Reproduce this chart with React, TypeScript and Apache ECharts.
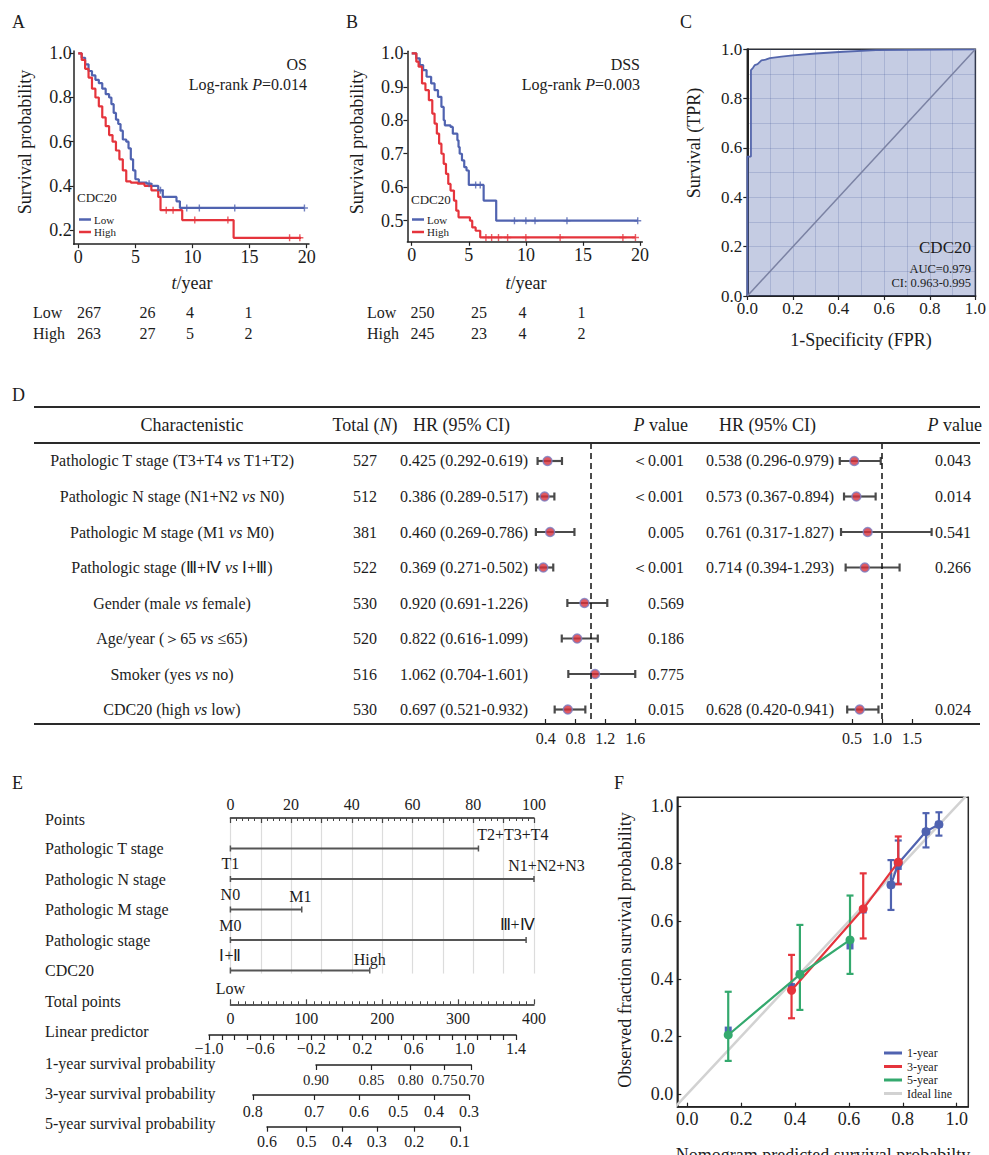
import React, { useEffect, useRef } from "react";
import * as echarts from "echarts";

const FONT = "'Liberation Serif','Times New Roman',serif";
const INK = "#1c1c1c";
const BLUE = "#5063b0";
const RED = "#e5343c";
const GREEN = "#34a96e";

// ---------- A: overall survival (OS) ----------
const osLow = [[0,1],[0.3,0.98],[0.6,0.95],[0.9,0.92],[1.2,0.9],[1.5,0.88],[1.8,0.865],[2.1,0.84],[2.4,0.815],[2.7,0.8],[2.9,0.77],[3.1,0.73],[3.3,0.7],[3.5,0.68],[3.7,0.65],[3.9,0.61],[4.2,0.6],[4.4,0.57],[4.6,0.52],[4.8,0.47],[5.0,0.43],[5.3,0.415],[6.0,0.41],[6.4,0.4],[7.0,0.38],[7.4,0.35],[8.6,0.33],[8.9,0.3],[19.8,0.3]];
const osHigh = [[0,1],[0.3,0.97],[0.6,0.93],[0.9,0.89],[1.2,0.84],[1.5,0.8],[1.8,0.76],[2.1,0.71],[2.4,0.67],[2.7,0.63],[3.0,0.6],[3.3,0.56],[3.6,0.52],[3.9,0.47],[4.2,0.42],[4.6,0.415],[5.2,0.41],[5.8,0.4],[6.4,0.38],[7.0,0.35],[7.2,0.29],[9.1,0.245],[13.6,0.165],[19.5,0.165]];
const osLowCensor = [[6.2,0.41],[7.2,0.38],[9.5,0.3],[10.6,0.3],[13.7,0.3],[19.8,0.3]];
const osHighCensor = [[7.7,0.29],[8.3,0.29],[10.2,0.245],[13.1,0.245],[18.5,0.165],[19.4,0.165]];
const osRiskLow = [267, 26, 4, 1];
const osRiskHigh = [263, 27, 5, 2];
const osTicks = [0.2, 0.4, 0.6, 0.8, 1.0];

// ---------- B: disease-specific survival (DSS) ----------
const dssLow = [[0,1],[0.4,0.985],[0.7,0.965],[1.0,0.95],[1.3,0.93],[1.7,0.91],[2.0,0.89],[2.3,0.87],[2.6,0.84],[2.8,0.8],[2.9,0.785],[3.4,0.78],[3.6,0.76],[4.0,0.74],[4.1,0.72],[4.2,0.7],[4.4,0.68],[4.6,0.66],[4.8,0.65],[5.0,0.607],[6.3,0.56],[7.4,0.5],[19.8,0.5]];
const dssHigh = [[0,1],[0.4,0.975],[0.6,0.96],[0.9,0.91],[1.2,0.89],[1.5,0.86],[1.8,0.82],[2.0,0.79],[2.2,0.76],[2.4,0.73],[2.6,0.7],[2.8,0.67],[3.0,0.64],[3.2,0.61],[3.4,0.59],[3.7,0.56],[3.9,0.53],[4.1,0.51],[5.1,0.5],[5.3,0.48],[5.6,0.47],[6.0,0.45],[19.6,0.45]];
const dssLowCensor = [[5.6,0.607],[6.0,0.607],[9.0,0.5],[10.0,0.5],[10.8,0.5],[13.6,0.5],[19.8,0.5]];
const dssHighCensor = [[6.5,0.45],[7.0,0.45],[7.6,0.45],[8.4,0.45],[10.0,0.45],[13.0,0.45],[18.5,0.45],[19.6,0.45]];
const dssRiskLow = [250, 25, 4, 1];
const dssRiskHigh = [245, 23, 4, 2];
const dssTicks = [0.5, 0.6, 0.7, 0.8, 0.9, 1.0];
const timeTicks = [0, 5, 10, 15, 20];

// ---------- C: ROC ----------
const rocFpr = [0,0,0.016,0.016,0.025,0.033,0.045,0.062,0.08,0.099,0.15,0.2,0.3,0.42,0.564,1.0];
const rocTpr = [0,0.565,0.565,0.916,0.925,0.936,0.94,0.955,0.958,0.964,0.97,0.975,0.983,0.99,0.997,1.0];

// ---------- D: Cox regression ----------
const characteristics = [
  "Pathologic T stage (T3+T4 vs T1+T2)",
  "Pathologic N stage (N1+N2 vs N0)",
  "Pathologic M stage (M1 vs M0)",
  "Pathologic stage (Ⅲ+Ⅳ vs Ⅰ+Ⅲ)",
  "Gender (male vs female)",
  "Age/year (＞65 vs ≤65)",
  "Smoker (yes vs no)",
  "CDC20 (high vs low)",
];
const totals = [527, 512, 381, 522, 530, 520, 516, 530];
const uniHR = [0.425, 0.386, 0.46, 0.369, 0.92, 0.822, 1.062, 0.697];
const uniLo = [0.292, 0.289, 0.269, 0.271, 0.691, 0.616, 0.704, 0.521];
const uniHi = [0.619, 0.517, 0.786, 0.502, 1.226, 1.099, 1.601, 0.932];
const uniP = ["＜0.001", "＜0.001", "0.005", "＜0.001", "0.569", "0.186", "0.775", "0.015"];
const multiHR = [0.538, 0.573, 0.761, 0.714, null, null, null, 0.628];
const multiLo = [0.296, 0.367, 0.317, 0.394, null, null, null, 0.42];
const multiHi = [0.979, 0.894, 1.827, 1.293, null, null, null, 0.941];
const multiP = ["0.043", "0.014", "0.541", "0.266", "", "", "", "0.024"];
const uniTicks = [0.4, 0.8, 1.2, 1.6];
const multiTicks = [0.5, 1.0, 1.5];

// ---------- E: nomogram ----------
const nomoVars = ["Pathologic T stage", "Pathologic N stage", "Pathologic M stage", "Pathologic stage", "CDC20"];
const nomoMaxPoints = [81.7, 100, 23.5, 97.4, 45.9];
const nomoLowLabels = ["T1", "N0", "M0", "Ⅰ+Ⅱ", "Low"];
const nomoHighLabels = ["T2+T3+T4", "N1+N2+N3", "M1", "Ⅲ+Ⅳ", "High"];
const lpTickLabels = [-1.0, -0.6, -0.2, 0.2, 0.6, 1.0, 1.4];
const surv1Labels = ["0.90", "0.85", "0.80", "0.75", "0.70"];
const surv1Points = [112.8, 185.8, 237.5, 282.2, 317.5];
const surv3Labels = ["0.8", "0.7", "0.6", "0.5", "0.4", "0.3"];
const surv3Points = [29.6, 110.5, 169.4, 221.1, 268.2, 314.4];
const surv5Labels = ["0.6", "0.5", "0.4", "0.3", "0.2", "0.1"];
const surv5Points = [48.2, 100.1, 147.0, 192.9, 242.3, 302.5];

// ---------- F: calibration ----------
const cal1X = [0.756, 0.783, 0.886, 0.934];
const cal1Y = [0.726, 0.8, 0.911, 0.936];
const cal1Lo = [0.639, 0.73, 0.856, 0.897];
const cal1Hi = [0.812, 0.88, 0.975, 0.978];
const cal3X = [0.387, 0.653, 0.783];
const cal3Y = [0.36, 0.643, 0.805];
const cal3Lo = [0.263, 0.54, 0.728];
const cal3Hi = [0.483, 0.766, 0.894];
const cal5X = [0.152, 0.418, 0.604];
const cal5Y = [0.205, 0.415, 0.535];
const cal5Lo = [0.115, 0.292, 0.417];
const cal5Hi = [0.355, 0.587, 0.689];
const corrX = [0.152, 0.387, 0.418, 0.604, 0.653, 0.756, 0.783, 0.886, 0.934];
const corrY = [0.222, 0.373, 0.417, 0.514, 0.639, 0.726, 0.79, 0.911, 0.936];
const unitTicks = [0, 0.2, 0.4, 0.6, 0.8, 1.0];

const PLUS = "path://M4,0h2v4h4v2h-4v4h-2v-4h-4v-2h4z";

function valAxis(gi: number, min: number, max: number, o: any = {}) {
  const axisTick: any = { show: o.tickShow ?? true, inside: o.inside ?? false, length: o.tl ?? 4, lineStyle: { color: "#222", width: 1.2 } };
  if (o.ticks) axisTick.customValues = o.ticks;
  const axisLabel: any = { show: o.labelShow ?? true, margin: o.margin ?? 4, color: INK, fontFamily: FONT, fontSize: o.fs ?? 17, hideOverlap: false, showMinLabel: true, showMaxLabel: true };
  if (o.labels) axisLabel.customValues = o.labels;
  if (o.fmt) axisLabel.formatter = o.fmt;
  const ax: any = {
    gridIndex: gi, type: "value", min, max,
    axisLine: { show: o.line ?? true, onZero: false, lineStyle: { color: "#222", width: o.lw ?? 1.5 } },
    axisTick, axisLabel,
    splitLine: { show: false },
  };
  if (o.interval !== undefined) ax.interval = o.interval;
  if (o.position) ax.position = o.position;
  if (o.inverse) ax.inverse = true;
  return { ...ax, ...(o.extra || {}) };
}
const hiddenAxis = (gi: number, min: number, max: number, inverse = false) => ({ gridIndex: gi, type: "value", min, max, inverse, show: false });

const f1 = (v: number) => v.toFixed(1);

function buildOption() {
  const g: any[] = [];
  const rich = (size: number) => ({ i: { fontStyle: "italic", fontSize: size, fontFamily: FONT, fill: INK } });
  const text = (x: number, y: number, s: string, size = 16, align = "left", more: any = {}) => {
    g.push({
      type: "text", x, y, z: 50, silent: true, ...more,
      style: { text: s, fontSize: size, fontFamily: FONT, fill: INK, align, verticalAlign: "middle", rich: rich(size) },
    });
  };
  const seg = (x1: number, y1: number, x2: number, y2: number, w = 2, color = "#2a2a2a") =>
    g.push({ type: "line", z: 40, silent: true, shape: { x1, y1, x2, y2 }, style: { stroke: color, lineWidth: w } });

  // panel labels
  text(12, 22, "A", 18); text(346, 22, "B", 18); text(680, 22, "C", 18);
  text(12, 395, "D", 18); text(12, 783, "E", 18); text(614, 783, "F", 18);

  // A texts
  text(307, 64, "OS", 16, "right");
  text(307, 84, "Log-rank {i|P}=0.014", 16, "right");
  text(77, 197, "CDC20", 13);
  seg(79, 219.5, 91, 219.5, 2.5, BLUE); text(94, 219.5, "Low", 11);
  seg(79, 232, 91, 232, 2.5, RED); text(94, 232, "High", 11);
  text(25, 142, "Survival probability", 18, "center", { rotation: Math.PI / 2 });
  text(192, 283, "{i|t}/year", 18, "center");
  const riskAX = [89, 147.5, 190, 248.5];
  text(33, 312, "Low", 16); text(33, 333, "High", 16);
  osRiskLow.forEach((v, i) => text(riskAX[i], 312, String(v), 16, "center"));
  osRiskHigh.forEach((v, i) => text(riskAX[i], 333, String(v), 16, "center"));

  // B texts
  text(640, 64, "DSS", 16, "right");
  text(640, 84, "Log-rank {i|P}=0.003", 16, "right");
  text(411, 199, "CDC20", 13);
  seg(412, 219.5, 424, 219.5, 2.5, BLUE); text(427, 219.5, "Low", 11);
  seg(412, 232, 424, 232, 2.5, RED); text(427, 232, "High", 11);
  text(357, 142, "Survival probability", 18, "center", { rotation: Math.PI / 2 });
  text(526, 283, "{i|t}/year", 18, "center");
  const riskBX = [422.5, 479, 522.5, 581.5];
  text(367, 312, "Low", 16); text(367, 333, "High", 16);
  dssRiskLow.forEach((v, i) => text(riskBX[i], 312, String(v), 16, "center"));
  dssRiskHigh.forEach((v, i) => text(riskBX[i], 333, String(v), 16, "center"));

  // C texts
  text(971, 247, "CDC20", 17, "right");
  text(971, 269, "AUC=0.979", 12.5, "right");
  text(971, 283, "CI: 0.963-0.995", 12.5, "right");
  text(694, 143, "Survival (TPR)", 18, "center", { rotation: Math.PI / 2 });
  text(861, 340, "1-Specificity (FPR)", 18, "center");

  // D table
  seg(34, 407, 980, 407, 2); seg(34, 443, 980, 443, 2); seg(34, 724, 980, 724, 2);
  text(192, 425, "Charactenistic", 18, "center");
  text(365, 425, "Total ({i|N})", 18, "center");
  text(413, 425, "HR (95% CI)", 18);
  text(688, 425, "{i|P} value", 18, "right");
  text(719, 425, "HR (95% CI)", 18);
  text(982, 425, "{i|P} value", 18, "right");
  const rowY = (i: number) => 443 + (i + 0.507) * (281 / 7.915);
  characteristics.forEach((c, i) => {
    const y = rowY(i);
    text(172, y, c.replace(" vs ", " {i|vs} "), 16, "center");
    text(365, y, String(totals[i]), 16, "center");
    text(400, y, `${uniHR[i].toFixed(3)} (${uniLo[i].toFixed(3)}-${uniHi[i].toFixed(3)})`, 16);
    text(684, y, uniP[i], 16, "right");
    if (multiHR[i] !== null) {
      text(706, y, `${(multiHR[i] as number).toFixed(3)} (${(multiLo[i] as number).toFixed(3)}-${(multiHi[i] as number).toFixed(3)})`, 16);
      text(971, y, multiP[i], 16, "right");
    }
  });

  // E row labels
  const nomoRowY = (r: number) => 818 + r * 30.5;
  text(45, 819, "Points", 16);
  nomoVars.forEach((v, i) => text(45, nomoRowY(i + 1), v, 16));
  text(45, 1001.5, "Total points", 16);
  text(45, 1031.5, "Linear predictor", 16);
  text(45, 1063, "1-year survival probability", 16);
  text(45, 1093, "3-year survival probability", 16);
  text(45, 1123, "5-year survival probability", 16);

  // F titles
  text(625, 950, "Observed fraction survival probability", 18, "center", { rotation: Math.PI / 2 });
  text(823, 1155, "Nomogram predicted survival probabilty", 18, "center");

  // ---------- grids ----------
  const PX = 303.6 / 400;
  const probGrid = (pts: number[], axisY: number) => ({ left: 230.4 + pts[0] * PX, top: axisY - 1, width: (pts[pts.length - 1] - pts[0]) * PX, height: 1 });
  const grid: any[] = [
    { left: 73.7, top: 51.1, width: 235.3, height: 193.1 }, // 0 A
    { left: 407.4, top: 51.3, width: 234.9, height: 190.5 }, // 1 B
    { left: 747.3, top: 49.3, width: 229.4, height: 246.7, show: true, borderColor: "#2a2a2a", borderWidth: 1.5, backgroundColor: "transparent" }, // 2 C
    { left: 515.8, top: 443, width: 134.3, height: 281 }, // 3 D uni
    { left: 822, top: 443, width: 120, height: 281 }, // 4 D multi
    { left: 230.4, top: 818, width: 303.6, height: 155.55 }, // 5 E points
    { left: 230.4, top: 1003.3, width: 303.6, height: 1 }, // 6 E total
    { left: 209, top: 1034, width: 307, height: 1 }, // 7 E LP
    probGrid(surv1Points, 1065), // 8
    probGrid(surv3Points, 1095), // 9
    probGrid(surv5Points, 1126.7), // 10
    { left: 677.3, top: 797.3, width: 291, height: 309.4, show: true, borderColor: "#2a2a2a", borderWidth: 1.5, backgroundColor: "transparent" }, // 11 F
  ];

  const lookup = (pts: number[], labs: string[]) => (v: number) => {
    let best = 0;
    pts.forEach((p, i) => { if (Math.abs(p - v) < Math.abs(pts[best] - v)) best = i; });
    return labs[best];
  };
  const lpTicks: number[] = [];
  for (let k = 0; k <= 24; k++) lpTicks.push(Math.round((-1 + 0.1 * k) * 10) / 10);

  const gridLine = { show: true, lineStyle: { color: "rgba(60,80,140,0.22)", width: 1 } };
  const xAxis: any[] = [
    valAxis(0, -0.4, 20.2, { ticks: timeTicks, labels: timeTicks, margin: 4, fs: 18 }),
    valAxis(1, -0.38, 20.2, { ticks: timeTicks, labels: timeTicks, margin: 4, fs: 18 }),
    valAxis(2, 0, 1, { interval: 0.2, fmt: f1, margin: 4, fs: 17, lw: 2,
      extra: { splitLine: gridLine, minorTick: { show: false, splitNumber: 2 }, minorSplitLine: gridLine } }),
    valAxis(3, 0, 1.8, { line: false, inside: true, tl: 5, ticks: uniTicks, labels: uniTicks, fmt: f1, fs: 16, margin: 6 }),
    valAxis(4, 0, 2.0, { line: false, inside: true, tl: 5, ticks: multiTicks, labels: multiTicks, fmt: f1, fs: 16, margin: 6 }),
    valAxis(5, 0, 100, { position: "top", interval: 10, inside: true, tl: 5, fs: 16, margin: 6, lw: 1.5,
      fmt: (v: number) => (v % 20 === 0 ? String(v) : ""),
      extra: { axisTick: { show: true, inside: true, length: 5, lineStyle: { color: "#444", width: 1.2 } }, minorTick: { show: true, splitNumber: 5, length: 3, lineStyle: { color: "#444", width: 1 } }, splitLine: { show: true, lineStyle: { color: "#dcdcdc", width: 1.2 } } } }),
    valAxis(6, 0, 400, { interval: 100, fs: 16, margin: 6.5,
      extra: { axisTick: { show: true, inside: true, length: 5, lineStyle: { color: "#444", width: 1.2 } }, minorTick: { show: true, splitNumber: 10, length: 3, lineStyle: { color: "#444", width: 1 } } } }),
    valAxis(7, -1.0, 1.4, { ticks: lpTicks, labels: lpTickLabels, tl: 5, fs: 16, margin: 5,
      fmt: (v: number) => (v < 0 ? "−" + Math.abs(v).toFixed(1) : v.toFixed(1)) }),
    valAxis(8, surv1Points[0], surv1Points[surv1Points.length - 1], { ticks: surv1Points, labels: surv1Points, tl: 5, fs: 14.8, margin: 7.5, fmt: lookup(surv1Points, surv1Labels) }),
    valAxis(9, surv3Points[0], surv3Points[surv3Points.length - 1], { ticks: surv3Points, labels: surv3Points, tl: 5, fs: 16, margin: 8.5, fmt: lookup(surv3Points, surv3Labels) }),
    valAxis(10, surv5Points[0], surv5Points[surv5Points.length - 1], { ticks: surv5Points, labels: surv5Points, tl: 5, fs: 16, margin: 7, fmt: lookup(surv5Points, surv5Labels) }),
    valAxis(11, -0.037, 1.043, { ticks: unitTicks, labels: unitTicks, inside: true, tl: 4, fmt: f1, fs: 18, margin: 3 }),
  ];
  const yAxis: any[] = [
    valAxis(0, 0.136, 1.01, { ticks: osTicks, labels: osTicks, fmt: f1, fs: 18, margin: 2 }),
    valAxis(1, 0.437, 1.006, { ticks: dssTicks, labels: dssTicks, fmt: f1, fs: 18, margin: 4 }),
    valAxis(2, 0, 1, { interval: 0.2, fmt: f1, margin: 5, fs: 17, lw: 2,
      extra: { splitLine: gridLine, minorTick: { show: false, splitNumber: 2 }, minorSplitLine: gridLine } }),
    hiddenAxis(3, -0.507, 7.408, true),
    hiddenAxis(4, -0.507, 7.408, true),
    hiddenAxis(5, 0, 5.1, true),
    hiddenAxis(6, 0, 1),
    hiddenAxis(7, 0, 1),
    hiddenAxis(8, 0, 1),
    hiddenAxis(9, 0, 1),
    hiddenAxis(10, 0, 1),
    valAxis(11, -0.044, 1.03, { ticks: unitTicks, labels: unitTicks, inside: true, tl: 4, fmt: f1, fs: 18, margin: 4 }),
  ];

  const series: any[] = [];
  const km = (gi: number, data: number[][], color: string) => series.push({
    type: "line", xAxisIndex: gi, yAxisIndex: gi, step: "end", data, symbol: "none", showSymbol: false,
    lineStyle: { color, width: 2.2 }, itemStyle: { color }, z: 3,
  });
  const cens = (gi: number, data: number[][], color: string) => series.push({
    type: "scatter", xAxisIndex: gi, yAxisIndex: gi, data, symbol: PLUS, symbolSize: 7, itemStyle: { color }, z: 4,
  });
  km(0, osLow, BLUE); km(0, osHigh, RED); cens(0, osLowCensor, BLUE); cens(0, osHighCensor, RED);
  km(1, dssLow, BLUE); km(1, dssHigh, RED); cens(1, dssLowCensor, BLUE); cens(1, dssHighCensor, RED);

  // C ROC
  series.push({
    type: "line", xAxisIndex: 2, yAxisIndex: 2, data: rocFpr.map((x, i) => [x, rocTpr[i]]), symbol: "none",
    lineStyle: { color: "#5466ac", width: 1.8 }, areaStyle: { color: "rgba(88,108,176,0.5)", origin: "start" }, z: 2,
  });
  series.push({ type: "line", xAxisIndex: 2, yAxisIndex: 2, data: [[0, 0], [1, 1]], symbol: "none", lineStyle: { color: "#7b82a3", width: 1.5 }, z: 3 });

  // D forest
  const hbar = (params: any, api: any) => {
    const a = api.coord([api.value(0), api.value(2)]);
    const b = api.coord([api.value(1), api.value(2)]);
    const st = { stroke: "#4a4a4a", lineWidth: 2.2 };
    const c = 4;
    return {
      type: "group", children: [
        { type: "line", shape: { x1: a[0], y1: a[1], x2: b[0], y2: b[1] }, style: st },
        { type: "line", shape: { x1: a[0], y1: a[1] - c, x2: a[0], y2: a[1] + c }, style: st },
        { type: "line", shape: { x1: b[0], y1: b[1] - c, x2: b[0], y2: b[1] + c }, style: st },
      ],
    };
  };
  const dashed = { silent: true, symbol: ["none", "none"], label: { show: false }, lineStyle: { type: [6, 4], color: "#111", width: 1.5 }, data: [{ xAxis: 1 }] };
  series.push({ type: "custom", xAxisIndex: 3, yAxisIndex: 3, renderItem: hbar, encode: { x: [0, 1], y: 2 }, data: uniLo.map((lo, i) => [lo, uniHi[i], i]), z: 3 });
  series.push({
    type: "scatter", xAxisIndex: 3, yAxisIndex: 3, data: uniHR.map((v, i) => [v, i]), symbol: "circle", symbolSize: 9,
    itemStyle: { color: "#d8303a", borderColor: "#7a80c4", borderWidth: 1.5 }, z: 4, markLine: dashed,
  });
  const mIdx = multiHR.map((v, i) => (v === null ? -1 : i)).filter((i) => i >= 0);
  series.push({ type: "custom", xAxisIndex: 4, yAxisIndex: 4, renderItem: hbar, encode: { x: [0, 1], y: 2 }, data: mIdx.map((i) => [multiLo[i], multiHi[i], i]), z: 3 });
  series.push({
    type: "scatter", xAxisIndex: 4, yAxisIndex: 4, data: mIdx.map((i) => [multiHR[i], i]), symbol: "circle", symbolSize: 9,
    itemStyle: { color: "#d8303a", borderColor: "#7a80c4", borderWidth: 1.5 }, z: 4, markLine: dashed,
  });

  // E nomogram variable lines
  const highOff = [[34.4, -14], [12.5, -13.3], [-1.3, -13.3], [-9, -16], [0, -11]];
  const lowOff = [15.3, 15, 16, 15.7, 18];
  const lab = (s: string, off: number[]) => ({ show: true, formatter: s, position: "inside", offset: off, color: INK, fontFamily: FONT, fontSize: 16 });
  nomoVars.forEach((v, i) => {
    series.push({
      type: "line", xAxisIndex: 5, yAxisIndex: 5, name: v,
      data: [
        { value: [0, i + 1], label: lab(nomoLowLabels[i], [0, lowOff[i]]) },
        { value: [nomoMaxPoints[i], i + 1], label: lab(nomoHighLabels[i], highOff[i]) },
      ],
      symbol: "rect", symbolSize: [1.5, 6], showSymbol: true,
      lineStyle: { color: "#555", width: 2 }, itemStyle: { color: "#555" }, z: 3,
    });
  });

  // F calibration
  const vbar = (color: string) => (params: any, api: any) => {
    const x = api.value(0);
    const p1 = api.coord([x, api.value(1)]);
    const p2 = api.coord([x, api.value(2)]);
    const st = { stroke: color, lineWidth: 2.2 };
    const c = 3.5;
    return {
      type: "group", children: [
        { type: "line", shape: { x1: p1[0], y1: p1[1], x2: p2[0], y2: p2[1] }, style: st },
        { type: "line", shape: { x1: p1[0] - c, y1: p1[1], x2: p1[0] + c, y2: p1[1] }, style: st },
        { type: "line", shape: { x1: p2[0] - c, y1: p2[1], x2: p2[0] + c, y2: p2[1] }, style: st },
      ],
    };
  };
  series.push({ type: "line", name: "Ideal line", xAxisIndex: 11, yAxisIndex: 11, data: [[-0.05, -0.05], [1.05, 1.05]], symbol: "none", lineStyle: { color: "#d2d2d2", width: 2.5 }, itemStyle: { color: "#d2d2d2" }, z: 1 });
  const calib = (name: string, xs: number[], ys: number[], lo: number[], hi: number[], color: string, z: number) => {
    series.push({ type: "custom", xAxisIndex: 11, yAxisIndex: 11, renderItem: vbar(color), encode: { x: 0, y: [1, 2] }, data: xs.map((x, i) => [x, lo[i], hi[i]]), z });
    series.push({
      type: "line", name, xAxisIndex: 11, yAxisIndex: 11, data: xs.map((x, i) => [x, ys[i]]), symbol: "circle", symbolSize: 9, showSymbol: true,
      lineStyle: { color, width: 2.2 }, itemStyle: { color }, z: z + 2,
    });
  };
  calib("1-year", cal1X, cal1Y, cal1Lo, cal1Hi, BLUE, 3);
  calib("3-year", cal3X, cal3Y, cal3Lo, cal3Hi, RED, 4);
  calib("5-year", cal5X, cal5Y, cal5Lo, cal5Hi, GREEN, 5);
  series.push({ type: "scatter", xAxisIndex: 11, yAxisIndex: 11, data: corrX.map((x, i) => [x, corrY[i]]), symbol: "rect", symbolSize: 7, itemStyle: { color: "#3f55b0", opacity: 0.9 }, z: 4 });

  return {
    animation: false,
    backgroundColor: "#ffffff",
    textStyle: { fontFamily: FONT, color: INK },
    grid, xAxis, yAxis, series,
    legend: {
      data: ["1-year", "3-year", "5-year", "Ideal line"], orient: "vertical", left: 884, top: 1047,
      itemWidth: 18, itemHeight: 3, itemGap: 1.5, icon: "rect", selectedMode: false,
      textStyle: { fontFamily: FONT, fontSize: 12, color: INK }, padding: 0,
    },
    graphic: g,
  };
}

export default function App() {
  const ref = useRef<HTMLDivElement>(null);
  useEffect(() => {
    const chart = echarts.init(ref.current as HTMLDivElement, null, { renderer: "svg" });
    chart.setOption(buildOption() as any);
    return () => chart.dispose();
  }, []);
  return <div ref={ref} style={{ position: "absolute", left: 0, top: 0, width: 989, height: 1155, background: "#fff" }} />;
}
